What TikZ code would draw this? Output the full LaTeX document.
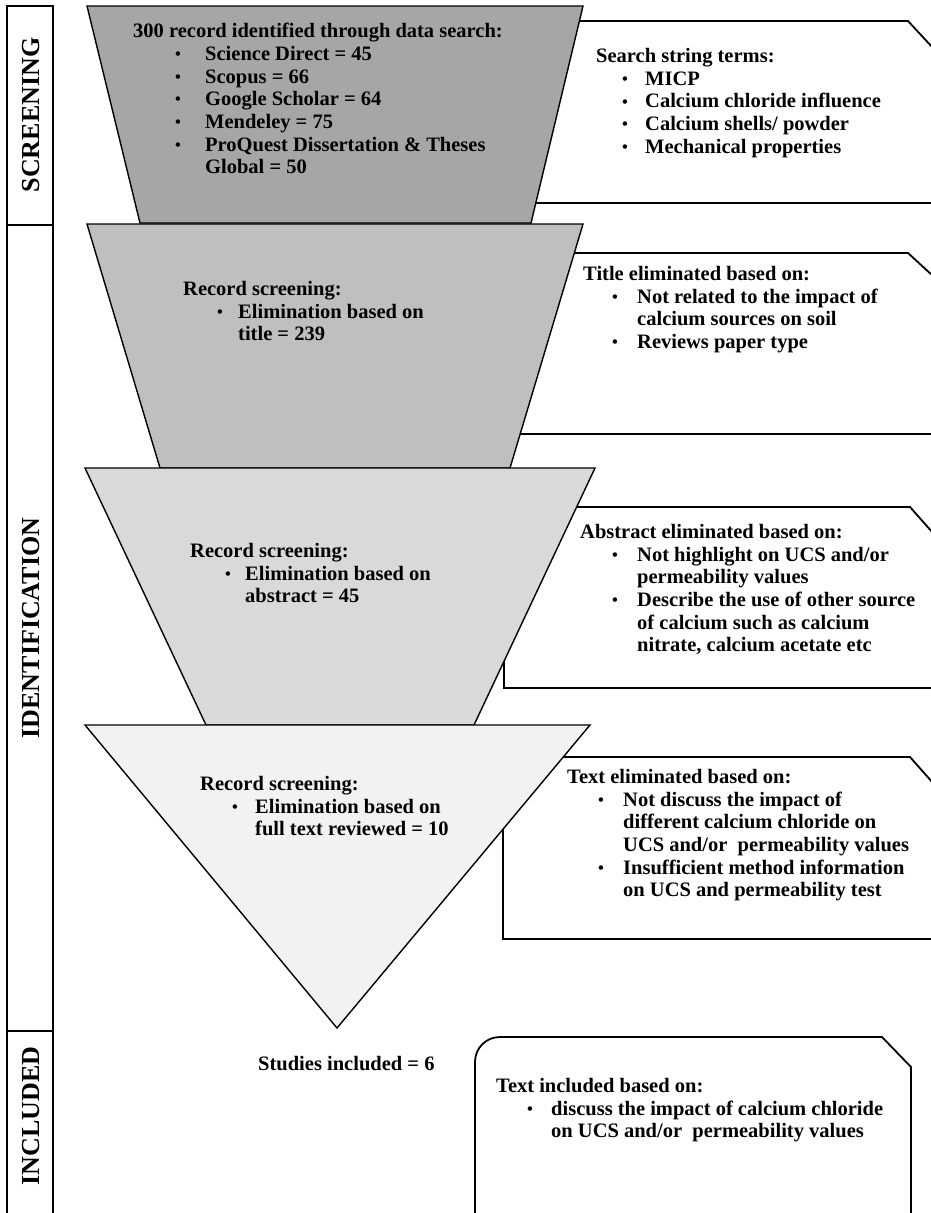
\documentclass[tikz,border=0pt]{standalone}
\usepackage{fontspec}
\setmainfont{Liberation Serif}
\definecolor{gA}{HTML}{A6A6A6}
\definecolor{gB}{HTML}{BFBFBF}
\definecolor{gC}{HTML}{D9D9D9}
\definecolor{gD}{HTML}{F2F2F2}
\newcommand\bl[3]{\hspace*{#1pt}\makebox[#2pt][l]{\raisebox{0.8pt}{\fontsize{16.5}{16.5}\selectfont\textbullet}}#3}
\newcommand\cl[2]{\hspace*{#1pt}#2}
\tikzset{
  funnel/.style={draw=black, line width=1.4pt, line join=miter},
  boxline/.style={draw=black, line width=1.8pt},
  txt/.style={font=\bfseries\fontsize{20.5}{22.7}\selectfont, align=left, inner sep=0pt, anchor=north west},
  side/.style={font=\bfseries\fontsize{26}{30}\selectfont, rotate=90, inner sep=0pt},
}
\begin{document}
\begin{tikzpicture}[x=1pt,y=-1pt]
\useasboundingbox (0,0) rectangle (930,1213);
% sidebar
\draw[boxline] (7,6) rectangle (53,225);
\draw[boxline] (7,225) rectangle (53,1031);
\draw[boxline] (53,1216) -- (53,1031) -- (7,1031) -- (7,1216);
\node[side] (s1) at (31,115) {SCREENING};
\node[side] (s2) at (31,628) {IDENTIFICATION};
\node[side] (s3) at (31,1116) {INCLUDED};
% right boxes (behind the funnel)
\draw[boxline] (933,48) -- (908,21) -- (504,21) -- (504,203) -- (933,203);
\draw[boxline] (933,276) -- (908,253) -- (504,253) -- (504,434) -- (933,434);
\draw[boxline] (933,533) -- (910,507) -- (504,507) -- (504,688) -- (933,688);
\draw[boxline] (933,783) -- (910,757) -- (503,757) -- (503,939) -- (933,939);
\draw[boxline] (475,1216) -- (475,1062) .. controls (475,1048) and (486,1037) .. (500,1037) -- (882,1037) -- (911,1067) -- (911,1216);
% funnel
\draw[funnel, fill=gA] (87,6) -- (583,6) -- (531,223) -- (140,223) -- cycle;
\draw[funnel, fill=gB] (87,224) -- (583,224) -- (510,468) -- (160,468) -- cycle;
\draw[funnel, fill=gC] (85,468) -- (595,468) -- (474,725) -- (206,725) -- cycle;
\draw[funnel, fill=gD] (85,725) -- (590,725) -- (337,1028) -- cycle;
% texts
\node[txt] (t1) at (133,23) {300 record identified through data search:\\
\bl{42}{30}{Science Direct = 45}\\
\bl{42}{30}{Scopus = 66}\\
\bl{42}{30}{Google Scholar = 64}\\
\bl{42}{30}{Mendeley = 75}\\
\bl{42}{30}{ProQuest Dissertation \& Theses}\\
\cl{72}{Global = 50}};
\node[txt] (b1) at (596,48) {Search string terms:\\
\bl{26}{23}{MICP}\\
\bl{26}{23}{Calcium chloride influence}\\
\bl{26}{23}{Calcium shells/ powder}\\
\bl{26}{23}{Mechanical properties}};
\node[txt] (t2) at (183,281) {Record screening:\\
\bl{34}{21}{Elimination based on}\\
\cl{55}{title = 239}};
\node[txt] (b2) at (583,266) {Title eliminated based on:\\
\bl{29}{25}{Not related to the impact of}\\
\cl{54}{calcium sources on soil}\\
\bl{29}{25}{Reviews paper type}};
\node[txt] (t3) at (190,543) {Record screening:\\
\bl{35}{20}{Elimination based on}\\
\cl{55}{abstract = 45}};
\node[txt] (b3) at (580,524) {Abstract eliminated based on:\\
\bl{32}{25}{Not highlight on UCS and/or}\\
\cl{57}{permeability values}\\
\bl{32}{25}{Describe the use of other source}\\
\cl{57}{of calcium such as calcium}\\
\cl{57}{nitrate, calcium acetate etc}};
\node[txt] (t4) at (200,776) {Record screening:\\
\bl{32}{23}{Elimination based on}\\
\cl{55}{full text reviewed = 10}};
\node[txt] (b4) at (567,769) {Text eliminated based on:\\
\bl{31}{25}{Not discuss the impact of}\\
\cl{56}{different calcium chloride on}\\
\cl{56}{UCS and/or\ \ permeability values}\\
\bl{31}{25}{Insufficient method information}\\
\cl{56}{on UCS and permeability test}};
\node[txt] (st) at (258,1056) {Studies included = 6};
\node[txt] (b5) at (496,1078) {Text included based on:\\
\bl{31}{24}{discuss the impact of calcium chloride}\\
\cl{55}{on UCS and/or\ \ permeability values}};
\end{tikzpicture}
\end{document}
